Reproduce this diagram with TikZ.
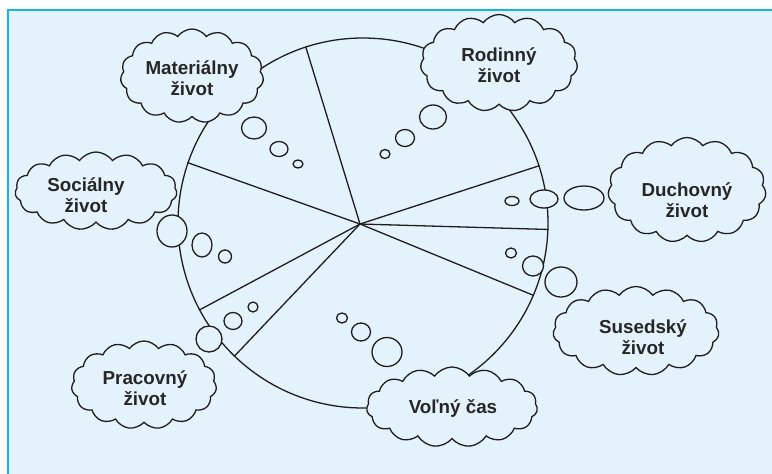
\documentclass[tikz,border=0pt]{standalone}
\usepackage{fontspec}
\setmainfont{Liberation Sans}
\usetikzlibrary{shapes.symbols}
\definecolor{bg}{HTML}{E4F2FC}
\definecolor{framec}{HTML}{14B4EA}
\definecolor{ink}{HTML}{1E1E1E}
\definecolor{txt}{HTML}{262626}
\tikzset{
  thought/.style={cloud, draw=ink, fill=bg, line width=1.3pt, cloud puffs=15,
    cloud puff arc=110, inner sep=0pt},
  lbl/.style={align=center, text=txt, inner sep=0pt,
    font=\bfseries\fontsize{18.8}{21.5}\selectfont},
  bub/.style={draw=ink, fill=bg, line width=1.3pt},
  wheel/.style={draw=ink, line width=1.3pt}
}
\begin{document}
\begin{tikzpicture}[x=1pt,y=-1pt]
\useasboundingbox (0,0) rectangle (772,474);
\fill[white] (0,0) rectangle (772,474);
\fill[bg] (8,10) rectangle (772,474);
\draw[framec, line width=2pt] (8,474) -- (8,10) -- (772,10);

% wheel
\node[circle, wheel, minimum size=370pt, inner sep=0pt] (C) at (363,223) {};
\coordinate (H) at (360,224);
\foreach \a in {108.7,161.4,208.9,226.5,18.3,-2.8,-23.6}
  \draw[wheel] (H) -- (C.\a);

% thought bubbles
\draw[bub] (254,128) ellipse (12.5 and 11);
\draw[bub] (279,149) ellipse (9 and 7.5);
\draw[bub] (298,164) ellipse (5 and 4);

\draw[bub] (433,117) ellipse (13.5 and 12);
\draw[bub] (405,138) ellipse (9.5 and 8.5);
\draw[bub] (385,154) ellipse (5 and 4.5);

\draw[bub] (584,198) ellipse (20 and 12);
\draw[bub] (544,199) ellipse (14 and 9);
\draw[bub] (512,201) ellipse (7 and 4.5);

\draw[bub] (561,282) ellipse (16 and 15);
\draw[bub] (533,266) ellipse (10.5 and 10);
\draw[bub] (511,253) ellipse (5.5 and 5);

\draw[bub] (387,352) ellipse (15 and 14.5);
\draw[bub] (361,332) ellipse (9.5 and 9);
\draw[bub] (342,318) ellipse (5.5 and 5);

\draw[bub] (209,339) ellipse (13 and 13);
\draw[bub] (233,321) ellipse (9 and 8.5);
\draw[bub] (253,307) ellipse (5 and 5);

% clouds
\node[thought, minimum width=143pt, minimum height=94pt, aspect=1.5] (mat) at (192,76) {};
\node[thought, minimum width=162pt, minimum height=78pt, aspect=2.1] (soc) at (96,191) {};
\node[thought, minimum width=157pt, minimum height=97pt, aspect=1.6] (rod) at (499,63) {};
\node[thought, minimum width=158pt, minimum height=105pt, aspect=1.5] (duch) at (687,190) {};
\node[thought, minimum width=166pt, minimum height=89pt, aspect=1.9] (sus) at (636,331) {};
\node[thought, minimum width=171pt, minimum height=80pt, aspect=2.1] (vol) at (452,407) {};
\node[thought, minimum width=145pt, minimum height=88pt, aspect=1.65] (pra) at (144,385) {};

% labels
\node[lbl] (matT) at (192,78) {Materiálny\\život};
\node[lbl] (socT) at (86,195) {Sociálny\\život};
\node[lbl] (rodT) at (499,65) {Rodinný\\život};
\node[lbl] (duchT) at (687,200) {Duchovný\\život};
\node[lbl] (susT) at (643,337) {Susedský\\život};
\node[lbl] (volT) at (453,408) {Voľný čas};
\node[lbl] (praT) at (145,388) {Pracovný\\život};

\draw[bub] (172,231) ellipse (15 and 16);
\draw[bub] (202,245) ellipse (10 and 12);
\draw[bub] (225,256.5) ellipse (6.5 and 6.5);
\end{tikzpicture}
\end{document}
